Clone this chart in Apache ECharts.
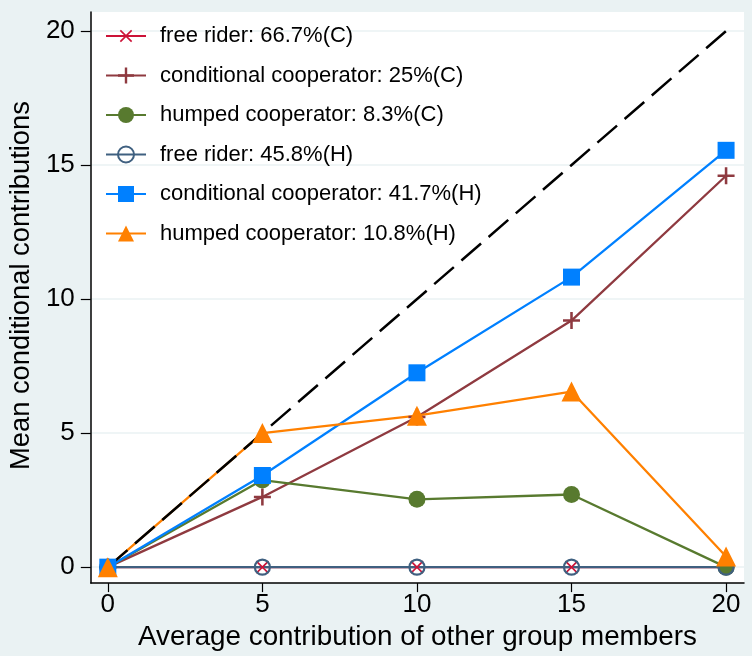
<!DOCTYPE html>
<html>
<head>
<meta charset="utf-8">
<script src="https://cdn.jsdelivr.net/npm/echarts@6/dist/echarts.min.js"></script>
<style>
html,body{margin:0;padding:0;background:#eaf2f3;}
#chart{width:752px;height:656px;}
</style>
</head>
<body>
<div id="chart"></div>
<script>
// ---- data ----
const xValues = [0, 5, 10, 15, 20];
const freeRiderC = [0, 0, 0, 0, 0];
const condCoopC = [0, 2.62, 5.6, 9.2, 14.6];
const humpedC = [0, 3.25, 2.53, 2.71, 0];
const freeRiderH = [0, 0, 0, 0, 0];
const condCoopH = [0, 3.42, 7.25, 10.82, 15.55];
const humpedH = [0, 5.0, 5.65, 6.55, 0.4];
const diagX = [0, 20];
const diagY = [0, 20];
const xTicks = [0, 5, 10, 15, 20];
const yTicks = [0, 5, 10, 15, 20];
const names = [
  'free rider: 66.7%(C)',
  'conditional cooperator: 25%(C)',
  'humped cooperator: 8.3%(C)',
  'free rider: 45.8%(H)',
  'conditional cooperator: 41.7%(H)',
  'humped cooperator: 10.8%(H)'
];

function pts(ys) { return xValues.map((x, i) => [x, ys[i]]); }

const FONT = '"Liberation Sans", Arial, Helvetica, sans-serif';
const PLUS = 'path://M8.5,0H11.5V8.5H20V11.5H11.5V20H8.5V11.5H0V8.5H8.5Z';
const XMARK = 'path://M9,0H11V9H20V11H11V20H9V11H0V9H9Z';

const cCrimson = '#cc1338';
const cMaroon = '#8f3a40';
const cGreen = '#587a2f';
const cSlate = '#3f6080';
const cBlue = '#0080ff';
const cOrange = '#ff8000';

function lineSeries(name, ys, color, symbol, size, extra) {
  return Object.assign({
    name: name,
    type: 'line',
    data: pts(ys),
    symbol: symbol,
    symbolSize: size,
    showAllSymbol: true,
    lineStyle: { color: color, width: 2.3 },
    itemStyle: { color: color },
    emphasis: { disabled: true },
    animation: false
  }, extra || {});
}

const chart = echarts.init(document.getElementById('chart'), null, { renderer: 'canvas' });
chart.setOption({
  backgroundColor: '#eaf2f3',
  animation: false,
  textStyle: { fontFamily: FONT },
  grid: {
    left: 90, right: 8, top: 12, bottom: 71,
    show: true, backgroundColor: '#ffffff', borderWidth: 0,
    containLabel: false
  },
  legend: {
    data: names,
    orient: 'vertical',
    left: 105, top: 23,
    padding: 0,
    itemWidth: 40, itemHeight: 20,
    itemGap: 13.5,
    textStyle: { fontSize: 22, color: '#000', fontFamily: FONT, lineHeight: 26, padding: [0, 0, 0, 9] },
    selectedMode: false
  },
  xAxis: {
    type: 'value',
    min: -0.55, max: 20.58,
    name: 'Average contribution of other group members',
    nameLocation: 'middle',
    nameGap: 36,
    nameTextStyle: { fontSize: 27.8, color: '#000', fontFamily: FONT },
    axisLine: { show: true, onZero: false, lineStyle: { color: '#000', width: 1.5 } },
    axisTick: { show: true, length: 9, customValues: xTicks, lineStyle: { color: '#000', width: 1.2 } },
    axisLabel: { customValues: xTicks, fontSize: 26, color: '#000', margin: 9, fontFamily: FONT },
    splitLine: { show: false }
  },
  yAxis: {
    type: 'value',
    min: -0.595, max: 20.71,
    name: 'Mean conditional contributions',
    nameLocation: 'middle',
    nameGap: 44,
    nameTextStyle: { fontSize: 27.3, color: '#000', fontFamily: FONT, padding: [0, 0, 0, 24] },
    axisLine: { show: true, onZero: false, lineStyle: { color: '#000', width: 1.5 } },
    axisTick: { show: true, length: 10, customValues: yTicks, lineStyle: { color: '#000', width: 1.2 } },
    axisLabel: { customValues: yTicks, fontSize: 26, color: '#000', margin: 16, fontFamily: FONT },
    splitLine: { show: true, lineStyle: { color: '#eaf2f3', width: 1.5 } }
  },
  series: [
    lineSeries(names[0], freeRiderC, cCrimson, XMARK, 17, { symbolRotate: 45 }),
    lineSeries(names[1], condCoopC, cMaroon, PLUS, 17),
    lineSeries(names[2], humpedC, cGreen, 'circle', 17),
    lineSeries(names[3], freeRiderH, cSlate, 'circle', 15, {
      itemStyle: { color: 'rgba(0,0,0,0)', borderColor: cSlate, borderWidth: 2.2 }
    }),
    lineSeries(names[4], condCoopH, cBlue, 'rect', 17),
    lineSeries(names[5], humpedH, cOrange, 'triangle', 20),
    {
      name: 'diagonal',
      type: 'line',
      data: diagX.map((x, i) => [x, diagY[i]]),
      symbol: 'none',
      lineStyle: { color: '#000', width: 2.5, type: [26, 10] },
      emphasis: { disabled: true },
      animation: false
    }
  ]
});
</script>
</body>
</html>
